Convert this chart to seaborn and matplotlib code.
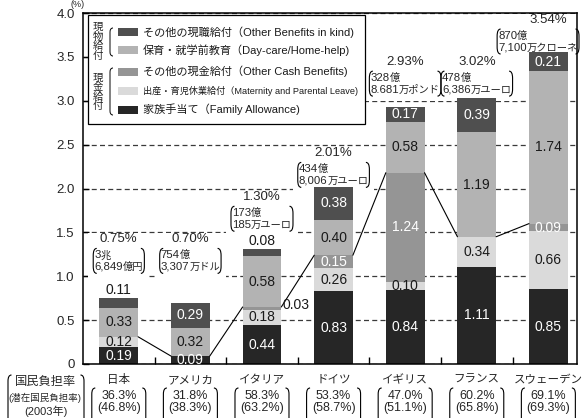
import re
import numpy as np
import pandas as pd
import seaborn as sns
import matplotlib.pyplot as plt
from matplotlib.path import Path
from matplotlib.patches import PathPatch, Rectangle
from matplotlib.transforms import IdentityTransform

# data (% of GDP)
countries = ['日本', 'アメリカ', 'イタリア', 'ドイツ', 'イギリス', 'フランス', 'スウェーデン']
family = [0.19, 0.09, 0.44, 0.83, 0.84, 1.11, 0.85]
maternity = [0.12, 0.00, 0.18, 0.26, 0.10, 0.34, 0.66]
other_cash = [0.00, 0.00, 0.03, 0.15, 1.24, 0.00, 0.09]
daycare = [0.33, 0.32, 0.58, 0.40, 0.58, 1.19, 1.74]
other_kind = [0.11, 0.29, 0.08, 0.38, 0.17, 0.39, 0.21]
totals = ['0.75%', '0.70%', '1.30%', '2.01%', '2.93%', '3.02%', '3.54%']
amounts = ['3兆\n6,849億円', '754億\n3,307万ドル', '173億\n185万ユーロ', '434億\n8,006万ユーロ',
           '328億\n8.681万ポンド', '478億\n6,386万ユーロ', '870億\n7,100万クローネ']
burden = ['36.3%', '31.8%', '58.3%', '53.3%', '47.0%', '60.2%', '69.1%']
burden_potential = ['46.8%', '38.3%', '63.2%', '58.7%', '51.1%', '65.8%', '69.3%']
legend_labels = {
    'other_kind': 'その他の現職給付（Other Benefits in kind)',
    'daycare': '保育・就学前教育（Day-care/Home-help)',
    'other_cash': 'その他の現金給付（Other Cash Benefits)',
    'maternity': '出産・育児休業給付（Maternity and Parental Leave)',
    'family': '家族手当て（Family Allowance)',
}

# layout only: height of the total/amount notes above each bar
note_y = [1.42, 1.42, 1.90, 2.40, 3.44, 3.44, 3.92]

W, H = 585, 418
sns.set_style('ticks')
plt.rcParams['font.family'] = ['Liberation Sans', 'Noto Sans CJK JP']
plt.rcParams['axes.unicode_minus'] = False

fig = plt.figure(figsize=(W / 100, H / 100), dpi=100)
ax = fig.add_axes([83 / W, 1 - 364 / H, (577 - 83) / W, (364 - 13) / H])

df = pd.DataFrame({'country': countries, 'family': family, 'maternity': maternity,
                   'other_cash': other_cash, 'daycare': daycare, 'other_kind': other_kind})
parts = ['family', 'maternity', 'other_cash', 'daycare', 'other_kind']
colors = {'family': '#262626', 'maternity': '#dadada', 'other_cash': '#959595',
          'daycare': '#b3b3b3', 'other_kind': '#4f4f4f'}
text_colors = {'family': 'white', 'maternity': '#1a1a1a', 'other_cash': 'white',
               'daycare': '#1a1a1a', 'other_kind': 'white'}
bar_w = 0.54
n = len(countries)

bottom = np.zeros(n)
for p in parts:
    sns.barplot(data=df, x='country', y=p, bottom=bottom.copy(), color=colors[p], saturation=1,
                width=bar_w, errorbar=None, linewidth=0, ax=ax, zorder=2)
    bottom += df[p].values

ax.set_xlim(-0.5, 6.4)
ax.set_ylim(0, 4)
ax.set_xlabel('')
ax.set_ylabel('')
yt = np.arange(0, 4.01, 0.5)
ax.set_yticks(yt, labels=['0'] + [f'{v:.1f}' for v in yt[1:]])
ax.set_xticks(np.arange(0.5, n - 1, 1), labels=[])
ax.tick_params(axis='both', direction='in', color='black', width=1)
ax.tick_params(axis='y', length=4, labelsize=9.5, pad=6)
ax.tick_params(axis='x', length=5)
for s in ax.spines.values():
    s.set_linewidth(1.1)
    s.set_color('black')
ax.set_axisbelow(True)
ax.yaxis.grid(True, linestyle=(0, (4.0, 2.6)), color='#3a3a3a', linewidth=0.9)

# lines joining the top of the cash benefits
cash_top = (df['family'] + df['maternity'] + df['other_cash']).values
for i in range(n - 1):
    ax.plot([i + bar_w / 2, i + 1 - bar_w / 2], [cash_top[i], cash_top[i + 1]],
            color='black', lw=0.8, zorder=3)

# segment values
base = np.zeros(n)
for p in parts:
    for i, v in enumerate(df[p].values):
        if v <= 0:
            continue
        if v < 0.05:
            ax.text(i + bar_w / 2 + 0.02, base[i] + v / 2 + 0.04, f'{v:.2f}', ha='left', va='center',
                    fontsize=10, color='#1a1a1a', zorder=6)
        elif p == 'other_kind' and v < 0.12:
            ax.text(i, base[i] + v + 0.01, f'{v:.2f}', ha='center', va='bottom',
                    fontsize=10, color='#1a1a1a', zorder=6)
        else:
            ax.text(i, base[i] + v / 2, f'{v:.2f}', ha='center', va='center',
                    fontsize=10, color=text_colors[p], zorder=6)
    base += df[p].values


def paren(x, ylo, yhi, side, depth=3.0, lw=0.8, r=None):
    # rounded bracket in display pixels; side -1 = '(' , +1 = ')'
    tip = x - side * depth
    h = yhi - ylo
    r = min(h * 0.45, 7) if r is None else r
    verts = [(tip, yhi), (x, yhi), (x, yhi - r), (x, ylo + r), (x, ylo), (tip, ylo)]
    codes = [Path.MOVETO, Path.CURVE3, Path.CURVE3, Path.LINETO, Path.CURVE3, Path.CURVE3]
    fig.add_artist(PathPatch(Path(verts, codes), transform=IdentityTransform(), fill=False,
                             lw=lw, ec='black', zorder=5))


fig.canvas.draw()
renderer = fig.canvas.get_renderer()
pix = IdentityTransform()

# totals and amounts above the bars (numbers full size, units a little smaller)
for i in range(n):
    cx, cy = ax.transData.transform((i, note_y[i]))
    pct = ax.text(i, note_y[i], totals[i], ha='center', va='center', fontsize=9.5, zorder=6)
    pieces = []
    for line in amounts[i].split('\n'):
        num, unit = re.match(r'([0-9.,]+)(.*)', line).groups()
        t1 = ax.text(0, 0, num, transform=pix, fontsize=8.2, ha='left', va='baseline', zorder=6)
        t2 = ax.text(0, 0, unit, transform=pix, fontsize=7.4, ha='left', va='baseline', zorder=6)
        w1 = t1.get_window_extent(renderer).width
        w2 = t2.get_window_extent(renderer).width
        pieces.append((t1, t2, w1, w1 + w2))
    block_w = max(pc[3] for pc in pieces)
    x0 = min(cx - block_w / 2, 578 - block_w)
    for k, (t1, t2, w1, _) in enumerate(pieces):
        yb = cy - 19 - k * 11.5
        t1.set_position((x0, yb))
        t2.set_position((x0 + w1, yb))
    ylo, yhi = cy - 34, cy - 9
    pb = pct.get_window_extent(renderer)
    ax.add_patch(Rectangle((x0 - 6, ylo - 5), block_w + 12, pb.y1 - ylo + 5,
                           transform=pix, fc='white', ec='none', zorder=1.5))
    paren(x0 - 1, ylo, yhi, -1, depth=3.5)
    paren(x0 + block_w + 1, ylo, yhi, 1, depth=3.5)

# bottom labels
for i in range(n):
    xd = ax.transData.transform((i, 0))[0]
    fig.text(xd / W, 1 - 380 / H, countries[i], ha='center', va='center', fontsize=8.3)
    fig.text(xd / W, 1 - 396 / H, burden[i], ha='center', va='center', fontsize=9)
    fig.text(xd / W, 1 - 408 / H, f'({burden_potential[i]})', ha='center', va='center', fontsize=9)
    paren(xd - 27, H - 430, H - 388, -1, depth=3.5, r=6)
    paren(xd + 27, H - 430, H - 388, 1, depth=3.5, r=6)

fig.text(46 / W, 1 - 381.5 / H, '国民負担率', ha='center', va='center', fontsize=8.8)
fig.text(45 / W, 1 - 398 / H, '(潜在国民負担率)', ha='center', va='center', fontsize=6.8)
fig.text(46 / W, 1 - 411 / H, '(2003年)', ha='center', va='center', fontsize=8)
paren(8, H - 430, H - 375, -1, depth=3.5, r=6)
paren(84, H - 430, H - 375, 1, depth=3.5, r=6)

fig.text(78 / W, 1 - 4.5 / H, '(%)', ha='center', va='center', fontsize=6.5)

# legend drawn as a boxed key with the two group brackets
fig.add_artist(Rectangle((88 / W, 1 - 124 / H), (365 - 88) / W, (124 - 15) / H,
                         transform=fig.transFigure, fc='white', ec='black', lw=0.9, zorder=1))
key_y = {'other_kind': 32, 'daycare': 50.5, 'other_cash': 71.5, 'maternity': 91, 'family': 109.5}
for p, yk in key_y.items():
    fig.add_artist(Rectangle((118 / W, 1 - (yk + 4) / H), 20 / W, 8 / H, transform=fig.transFigure,
                             fc=colors[p], ec='none', zorder=2))
    fig.text(143 / W, 1 - yk / H, legend_labels[p], ha='left', va='center',
             fontsize=6.6 if p == 'maternity' else 8, color='#1a1a1a', zorder=3)
fig.text(98 / W, 1 - 41.5 / H, '現\n物\n給\n付', ha='center', va='center', fontsize=7.5, linespacing=0.95, zorder=3)
fig.text(98 / W, 1 - 92 / H, '現\n金\n給\n付', ha='center', va='center', fontsize=7.5, linespacing=0.95, zorder=3)
paren(110, H - 56, H - 28, -1, depth=3, lw=0.7, r=4)
paren(110, H - 115, H - 68, -1, depth=3, lw=0.7, r=4)

fig.savefig('out.png', dpi=100)
